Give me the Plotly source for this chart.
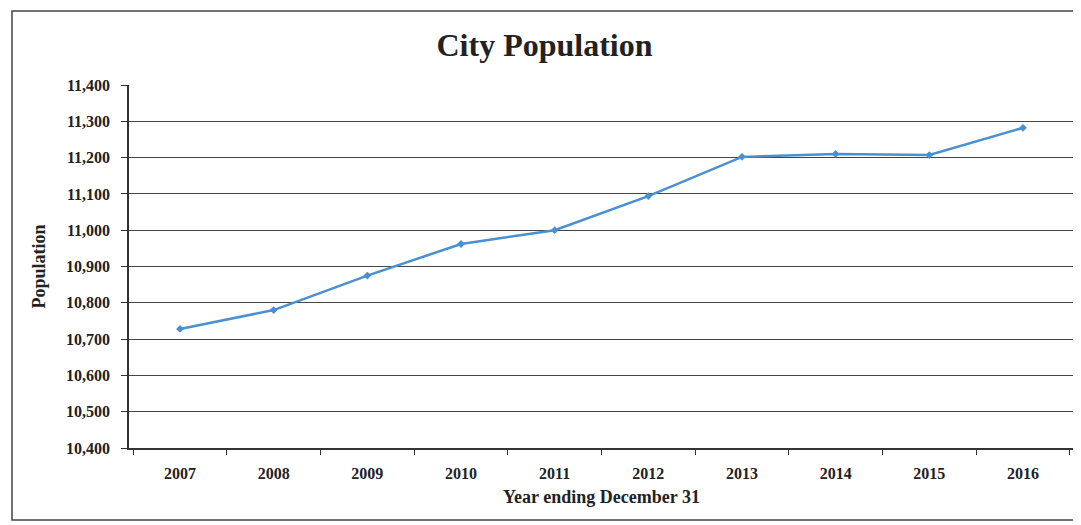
import plotly.graph_objects as go

years = ["2007", "2008", "2009", "2010", "2011", "2012", "2013", "2014", "2015", "2016"]
population = [10728, 10780, 10875, 10962, 11000, 11094, 11202, 11210, 11207, 11282]

y_ticks = list(range(10400, 11401, 100))
y_labels = [f"{v:,}" for v in y_ticks]

serif = "Liberation Serif, DejaVu Serif, serif"

fig = go.Figure()
fig.add_trace(go.Scatter(
    x=years,
    y=population,
    mode="lines+markers",
    line=dict(color="#4a90d0", width=2.5),
    marker=dict(symbol="diamond", size=6, color="#4a90d0"),
    showlegend=False,
))

# the page adds an 8px body margin, so the figure is a little smaller
fig.update_layout(
    width=1073,
    height=517,
    margin=dict(l=121, r=7, t=77, b=77),
    paper_bgcolor="white",
    plot_bgcolor="white",
    font=dict(family=serif, color="#222", size=16),
    title=dict(
        text="<b>City Population</b>",
        x=0.5, xanchor="center",
        y=0.928, yanchor="middle",
        font=dict(family=serif, size=32, color="#222"),
    ),
    xaxis=dict(
        type="category",
        showgrid=False,
        showline=True, linecolor="#333", linewidth=1.5,
        ticks="outside", tickson="boundaries", ticklen=5, tickcolor="#333",
        tickfont=dict(family=serif, size=16, color="#222"),
        ticklabelstandoff=10,
        title=dict(text="<b>Year ending December 31</b>", standoff=9,
                   font=dict(family=serif, size=18, color="#222")),
        tickprefix="<b>", ticksuffix="</b>",
    ),
    yaxis=dict(
        range=[10400, 11400],
        tickvals=y_ticks,
        ticktext=[f"<b>{t}</b>" for t in y_labels],
        showgrid=True, gridcolor="#444", gridwidth=1,
        showline=True, linecolor="#333", linewidth=1.5,
        ticks="outside", ticklen=6, tickcolor="#333",
        tickfont=dict(family=serif, size=16, color="#222"),
        ticklabelstandoff=8,
        title=dict(text="<b>Population</b>", standoff=16,
                   font=dict(family=serif, size=18, color="#222")),
        zeroline=False,
    ),
    shapes=[
        dict(type="rect", xref="paper", yref="paper",
             x0=(12 - 129) / 945, x1=1.1,
             y0=(448 - 520) / 363, y1=(448 - 11) / 363,
             line=dict(color="#444", width=1.5), fillcolor="rgba(0,0,0,0)", layer="below"),
    ],
)

fig.write_html("out.html")
